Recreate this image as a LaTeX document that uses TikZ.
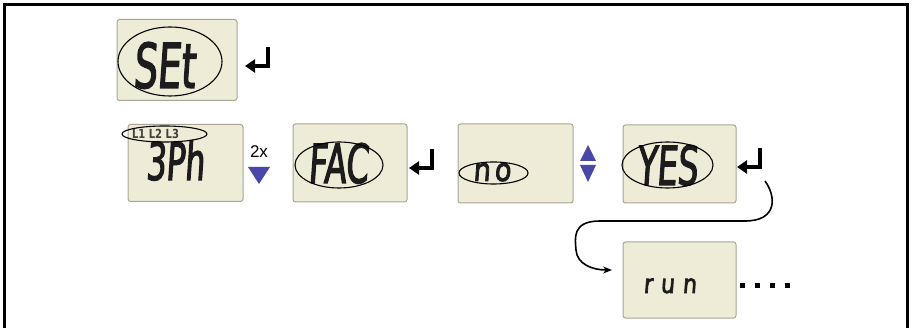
\documentclass[tikz,border=0pt]{standalone}
\usepackage{fontspec}
\setmainfont{Liberation Sans}
\newfontfamily\lcdfont{DejaVu Sans}[FakeStretch=0.6,FakeSlant=0.07,FakeBold=2]
\newfontfamily\lcdwide{DejaVu Sans}[FakeStretch=0.85,FakeSlant=0.07,FakeBold=2.5]
\newfontfamily\lblfont{DejaVu Sans}[FakeStretch=0.8]
\usetikzlibrary{shapes.geometric,arrows.meta}
\definecolor{lcdbg}{RGB}{238,236,214}
\definecolor{lcdedge}{RGB}{168,163,148}
\definecolor{triblue}{RGB}{72,72,168}
\definecolor{lcdink}{RGB}{28,28,28}
\tikzset{
  lcdbox/.style 2 args={draw=lcdedge, fill=lcdbg, line width=1pt, rounded corners=2.5pt,
    inner sep=0pt, minimum width=#1pt, minimum height=#2pt},
  lcdtext/.style={inner sep=0pt, anchor=base, text=lcdink, font=\lcdfont},
  lcdsmall/.style={inner sep=0pt, anchor=base, text=lcdink, font=\lcdwide},
  ring/.style 2 args={draw=black, line width=1.1pt, ellipse, inner sep=0pt,
    minimum width=#1pt, minimum height=#2pt},
  enterkey/.pic={\draw[line width=3.6pt, -{Triangle[length=10pt,width=13pt]}] (10,-11) -- (10,8) -- (-13,8);},
  tri/.style={fill=triblue},
  dot/.style={fill=black, inner sep=0pt, minimum size=5pt},
}
\begin{document}
\begin{tikzpicture}[x=1pt,y=-1pt]
\useasboundingbox (0,0) rectangle (912,328);
% frame
\draw[line width=3pt] (4,330) -- (4,5) -- (907,5) -- (907,330);

% SEt
\node[lcdbox={120}{81}] (setbox) at (177,60) {};
\node[lcdtext, font=\lcdfont\fontsize{62}{62}\selectfont] (sett) at (164,88) {SEt};
\node[ring={104}{69}] (setring) at (170,61.5) {};
\pic at (258,58) {enterkey};

% 3Ph
\node[lcdbox={115}{77}] (phbox) at (185.5,163) {};
\node[lcdtext, font=\lcdfont\fontsize{52}{52}\selectfont] (pht) at (175,180) {3Ph};
\node[inner sep=0pt, anchor=base, text=black!75, font=\lblfont\bfseries\fontsize{12.5}{12.5}\selectfont] (lines) at (155.5,138.5) {L1 L2 L3};
\node[ring={85}{16}] (linering) at (164.5,134) {};
\node[inner sep=0pt, font=\fontsize{17}{17}\selectfont] (twox) at (259,152) {2x};
\fill[tri] (248,167) -- (270,167) -- (259,184) -- cycle;

% FAC
\node[lcdbox={114}{78}] (facbox) at (350,163) {};
\node[lcdtext, font=\lcdfont\fontsize{54}{54}\selectfont] (fact) at (338,183) {FAC};
\node[ring={88}{46}] (facring) at (339,165) {};
\pic at (422,160) {enterkey};

% no
\node[lcdbox={115}{79}] (nobox) at (515.5,163.5) {};
\node[lcdsmall, font=\lcdwide\fontsize{32}{32}\selectfont] (not) at (492,181) {n\hspace{4pt}o};
\node[ring={69}{22}] (noring) at (493.5,173) {};
\fill[tri] (580,161) -- (596,161) -- (588,145) -- cycle;
\fill[tri] (580,165) -- (596,165) -- (588,182) -- cycle;

% YES
\node[lcdbox={113}{78}] (yesbox) at (679.5,164) {};
\node[lcdtext, font=\lcdfont\fontsize{54}{54}\selectfont] (yest) at (667,185) {YES};
\node[ring={91}{46}] (yesring) at (667.5,165) {};
\pic at (750,159) {enterkey};

% run
\node[lcdbox={113}{76}] (runbox) at (679.5,280) {};
\node[lcdsmall, font=\lcdwide\fontsize{26}{26}\selectfont] (runt) at (670,293) {r\hspace{8pt}u\hspace{8pt}n};
\node[dot] (d1) at (742.5,286) {};
\node[dot] (d2) at (757.5,286) {};
\node[dot] (d3) at (772.5,286) {};
\node[dot] (d4) at (787.5,286) {};

% connector
\coordinate (cstart) at (765,181);
\coordinate (cend) at (612,270);
\draw[line width=1.6pt, -{Stealth[length=9pt,width=7pt]}] (cstart)
  .. controls (776,196) and (778,221) .. (745,221) -- (600,221)
  .. controls (572,221) and (575,238) .. (576,250)
  .. controls (577,264) and (592,270) .. (cend);
\end{tikzpicture}
\end{document}
